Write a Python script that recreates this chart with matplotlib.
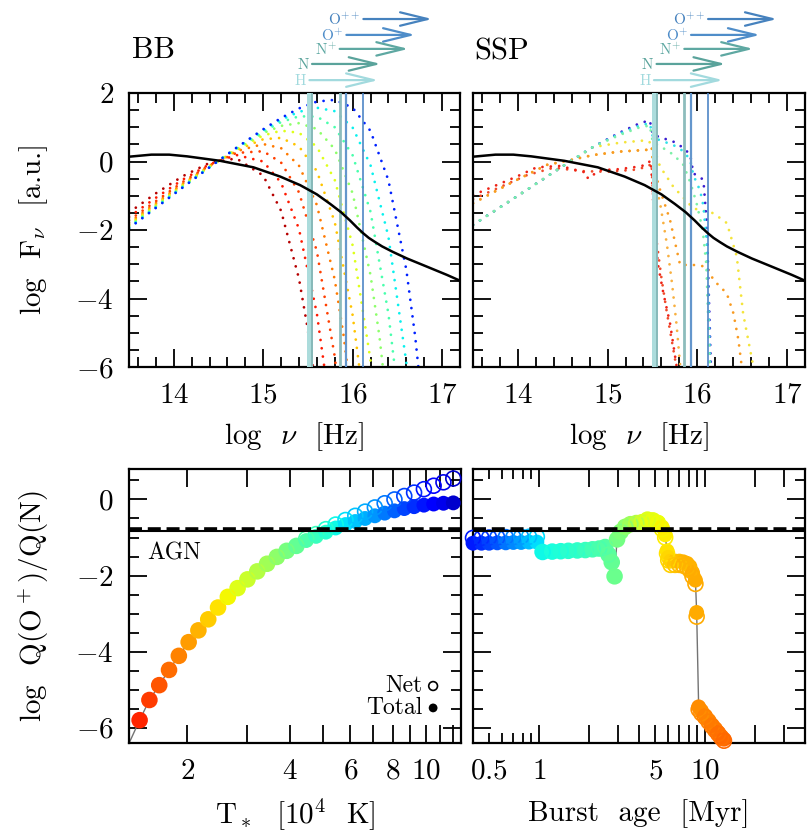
import numpy as np
import matplotlib
matplotlib.use("Agg")
import matplotlib.pyplot as plt
import matplotlib.transforms as mtransforms
from matplotlib.ticker import (FixedLocator, MultipleLocator, FuncFormatter,
                               NullLocator)

plt.rcParams['font.family'] = 'serif'
plt.rcParams['font.serif'] = ['cmr10', 'DejaVu Serif']
plt.rcParams['mathtext.fontset'] = 'cm'
plt.rcParams['axes.formatter.use_mathtext'] = True

# ---------------------------------------------------------------- data
# blackbody spectra (log nu [Hz], log F_nu [a.u.]), coolest first
bb_lognu = [
    [13.5, 13.8, 14.1, 14.4, 14.7, 15.0, 15.2, 15.4, 15.5, 15.6],
    [13.5, 13.8, 14.1, 14.4, 14.7, 15.0, 15.2, 15.4, 15.6, 15.7],
    [13.5, 14.1, 14.4, 14.7, 15.0, 15.2, 15.4, 15.6, 15.8, 15.9],
    [13.5, 14.1, 14.4, 14.7, 15.0, 15.2, 15.4, 15.6, 15.8, 15.9, 16.0],
    [13.5, 14.1, 14.4, 14.7, 15.0, 15.2, 15.4, 15.6, 15.8, 16.0, 16.1],
    [13.5, 14.1, 14.4, 14.7, 15.0, 15.2, 15.4, 15.6, 15.8, 16.0, 16.2, 16.3],
    [13.5, 14.1, 14.4, 14.7, 15.0, 15.2, 15.4, 15.6, 15.8, 16.0, 16.2, 16.3, 16.4],
    [13.5, 14.1, 14.4, 14.7, 15.0, 15.2, 15.4, 15.6, 15.8, 16.0, 16.2, 16.4, 16.5],
    [13.5, 14.1, 14.4, 14.7, 15.0, 15.2, 15.4, 15.6, 15.8, 16.0, 16.2, 16.4, 16.6, 16.7],
    [13.5, 14.1, 14.4, 14.7, 15.0, 15.2, 15.4, 15.6, 15.8, 16.0, 16.2, 16.4, 16.6, 16.7, 16.8],
]
bb_logf = [
    [-1.49, -0.93, -0.43, -0.04, 0.09, -0.41, -1.44, -3.42, -4.92, -6.90],
    [-1.62, -1.06, -0.53, -0.08, 0.19, 0.00, -0.62, -1.97, -4.44, -6.31],
    [-1.72, -0.60, -0.11, 0.25, 0.30, -0.03, -0.90, -2.62, -5.70, -7.99],
    [-1.79, -0.65, -0.13, 0.30, 0.51, 0.39, -0.12, -1.27, -3.45, -5.10, -7.25],
    [-1.84, -0.68, -0.14, 0.33, 0.65, 0.69, 0.44, -0.28, -1.77, -4.49, -6.52],
    [-1.87, -0.71, -0.15, 0.36, 0.76, 0.90, 0.84, 0.43, -0.54, -2.45, -5.81, -8.29],
    [-1.90, -0.73, -0.16, 0.37, 0.83, 1.04, 1.12, 0.95, 0.36, -0.93, -3.32, -5.12, -7.46],
    [-1.92, -0.74, -0.16, 0.39, 0.88, 1.15, 1.32, 1.31, 1.00, 0.18, -1.47, -4.45, -6.65],
    [-1.94, -0.75, -0.17, 0.39, 0.92, 1.22, 1.45, 1.57, 1.47, 0.99, -0.11, -2.20, -5.87, -8.57],
    [-1.95, -0.76, -0.17, 0.40, 0.94, 1.27, 1.55, 1.75, 1.80, 1.57, 0.89, -0.55, -3.16, -5.13, -7.66],
]

# stellar population spectra
ssp_lognu = {
    'red2':   [13.5, 13.8, 14.1, 14.4, 14.7, 15.0, 15.3, 15.45, 15.49, 15.51, 15.55, 15.60, 15.66, 15.72, 15.78],
    'red':    [13.5, 13.727, 13.987, 14.21, 14.47, 14.62, 14.767, 14.78, 14.916, 15.10, 15.288, 15.436,
               15.48, 15.503, 15.518, 15.566, 15.622, 15.696, 15.77],
    'orange2': [13.5, 13.912, 14.321, 14.581, 14.842, 15.139, 15.436, 15.492, 15.51, 15.59, 15.66, 15.72, 15.77, 15.81],
    'orange': [13.5, 13.912, 14.321, 14.581, 14.842, 15.139, 15.436, 15.492, 15.51, 15.585, 15.696,
               15.808, 15.956, 16.105, 16.18, 16.328, 16.402, 16.458, 16.495],
    'yellow': [13.5, 14.0, 14.58, 14.84, 15.14, 15.436, 15.503, 15.585, 15.733, 15.956, 16.18, 16.33,
               16.44, 16.51, 16.625],
    'blue':   [13.5, 14.0, 14.58, 14.84, 15.14, 15.36, 15.47, 15.505, 15.585, 15.733, 15.845, 15.92,
               15.956, 16.031, 16.068, 16.105, 16.124, 16.15],
    'cyan':   [13.5, 14.0, 14.58, 14.84, 15.14, 15.36, 15.47, 15.505, 15.585, 15.733, 15.845, 15.92,
               15.956, 16.031, 16.068, 16.105, 16.124, 16.145],
    'green':  [13.5, 14.0, 14.58, 14.84, 15.14, 15.36, 15.47, 15.505, 15.585, 15.733, 15.845, 15.92,
               15.99, 16.06, 16.10, 16.12, 16.14],
}
ssp_logf = {
    'red2':   [-1.10, -0.75, -0.40, -0.18, -0.28, -0.30, -0.24, -0.15, -0.05, -1.2, -2.4, -3.4, -4.4, -5.3, -6.2],
    'red':    [-0.98, -0.73, -0.44, -0.17, -0.13, -0.23, -0.33, -0.50, -0.25, -0.23, -0.17, -0.10,
               0.04, -0.83, -2.0, -3.07, -3.85, -4.73, -5.99],
    'orange2': [-1.22, -0.64, -0.10, 0.04, 0.19, 0.29, 0.34, 0.43, -0.30, -1.30, -2.40, -3.60, -4.80, -6.0],
    'orange': [-1.22, -0.64, -0.10, 0.04, 0.19, 0.29, 0.34, 0.43, -0.15, -0.83, -1.71,
               -3.02, -3.02, -3.07, -3.46, -3.85, -4.43, -5.21, -5.99],
    'yellow': [-1.85, -1.0, 0.0, 0.42, 0.55, 0.62, 0.50, -0.15, -0.74, -1.37, -1.51, -1.80,
               -2.78, -4.43, -6.0],
    'blue':   [-1.85, -1.0, 0.0, 0.43, 0.85, 1.12, 1.20, 0.78, 0.71, 0.58, 0.40, 0.20,
               -0.35, -0.45, -0.55, -1.80, -3.50, -5.90],
    'cyan':   [-1.85, -1.0, 0.0, 0.43, 0.82, 1.05, 1.12, 0.70, 0.62, 0.48, 0.30, 0.05,
               -0.40, -0.85, -1.30, -2.40, -4.00, -6.20],
    'green':  [-1.85, -1.0, 0.0, 0.43, 0.78, 1.00, 1.05, 0.55, 0.45, 0.20, -0.10, -0.60,
               -1.20, -2.00, -3.00, -4.50, -6.20],
}
ssp_order = ['red2', 'red', 'orange2', 'orange', 'yellow', 'blue', 'cyan', 'green']

# AGN continuum
agn_lognu = [13.5, 13.75, 13.95, 14.15, 14.518, 14.891, 15.19, 15.413, 15.6, 15.75, 15.87,
             15.97, 16.05, 16.12, 16.18, 16.25, 16.33, 16.45, 16.606, 16.83, 17.053, 17.2]
agn_logf = [0.14, 0.20, 0.20, 0.15, 0.02, -0.17, -0.44, -0.69, -0.96, -1.24, -1.48,
            -1.72, -1.93, -2.10, -2.23, -2.35, -2.48, -2.64, -2.83, -3.07, -3.31, -3.48]

# ionisation edges
edge_names = ['H', 'N', r'N$^{+}$', r'O$^{+}$', r'O$^{++}$']
edge_lognu = [15.517, 15.546, 15.855, 15.93, 16.12]

# Q(O+)/Q(N) versus blackbody temperature [1e4 K]
t_star = [1.45, 1.549, 1.655, 1.768, 1.889, 2.018, 2.155, 2.303, 2.46, 2.628, 2.807,
          2.999, 3.204, 3.423, 3.657, 3.906, 4.173, 4.458, 4.763, 5.088, 5.435, 5.807,
          6.203, 6.627, 7.079, 7.563, 8.079, 8.631, 9.221, 9.851, 10.52, 11.24, 12.01]
q_total_bb = [-5.80, -5.27, -4.88, -4.48, -4.11, -3.75, -3.44, -3.15, -2.84, -2.56, -2.33,
              -2.10, -1.89, -1.69, -1.51, -1.35, -1.22, -1.08, -0.97, -0.86, -0.75, -0.66,
              -0.58, -0.50, -0.43, -0.36, -0.30, -0.24, -0.19, -0.15, -0.12, -0.10, -0.09]
q_net_bb = [-5.80, -5.27, -4.88, -4.48, -4.11, -3.75, -3.44, -3.15, -2.84, -2.56, -2.33,
            -2.10, -1.89, -1.69, -1.51, -1.35, -1.22, -1.03, -0.91, -0.78, -0.66, -0.54,
            -0.43, -0.32, -0.21, -0.10, 0.00, 0.09, 0.18, 0.27, 0.36, 0.45, 0.55]
t_star_prev, q_total_prev = 1.32, -6.6   # previous grid point, below the plotted range

# Q(O+)/Q(N) versus burst age [Myr]
burst_age = [0.40, 0.45, 0.50, 0.56, 0.63, 0.70, 0.78, 0.87, 0.97,
             1.05, 1.20, 1.35, 1.50, 1.70, 1.90, 2.10, 2.30, 2.50,
             2.62, 2.74, 2.85, 2.95, 3.10, 3.30, 3.55, 3.85, 4.15, 4.50, 4.85, 5.20, 5.50, 5.75,
             5.90, 6.00, 6.20, 6.60, 7.00, 7.40, 7.80, 8.10, 8.40, 8.75, 8.90,
             9.15, 9.50, 10.0, 10.5, 11.0, 11.5, 12.0, 12.5, 13.0]
q_total_ssp = [-1.15, -1.15, -1.15, -1.14, -1.14, -1.13, -1.13, -1.12, -1.12,
               -1.38, -1.37, -1.36, -1.35, -1.34, -1.33, -1.31, -1.29, -1.25,
               -1.45, -1.65, -2.02, -1.05, -0.85, -0.72, -0.65, -0.62, -0.60, -0.53, -0.55, -0.60, -0.72, -0.93,
               -1.35, -1.52, -1.62, -1.62, -1.62, -1.64, -1.68, -1.76, -1.92, -2.12, -2.97,
               -5.45, -5.55, -5.68, -5.80, -5.92, -6.02, -6.12, -6.22, -6.30]
q_net_ssp = [-1.01, -1.01, -1.00, -1.00, -0.99, -0.99, -0.98, -0.98, -0.98,
             -1.38, -1.37, -1.36, -1.35, -1.34, -1.33, -1.31, -1.29, -1.25,
             -1.45, -1.65, -2.02, -1.05, -0.85, -0.72, -0.65, -0.62, -0.60, -0.53, -0.55, -0.62, -0.78, -1.00,
             -1.42, -1.60, -1.72, -1.72, -1.72, -1.74, -1.78, -1.86, -2.02, -2.22, -3.08,
             -5.52, -5.62, -5.72, -5.84, -5.96, -6.06, -6.16, -6.26, -6.34]

agn_ratio_total = -0.84
agn_ratio_net = -0.78

# ---------------------------------------------------------------- styles
jet = plt.cm.jet
bb_colors = [jet(v) for v in (0.95, 0.88, 0.84, 0.78, 0.70, 0.62, 0.52, 0.44, 0.36, 0.16)]
ssp_colors = {'red2': '#f04a2a', 'red': '#ee2216', 'orange2': '#f8b040', 'orange': '#f89a20',
              'yellow': '#f4e43a', 'green': '#7cf0a8', 'cyan': '#30e0e8', 'blue': '#3a1ed0'}
edge_colors = ['#a2dade', '#5aa39b', '#5ea8a2', '#4f8dc9', '#4682be']
vline_colors = ['#acdcdc', '#86b9b9', '#8dbcbc', '#6496cc', '#4f86c6']
vline_widths = [3.6, 1.4, 2.0, 1.6, 1.2]
arrow_heights = [1.047, 1.106, 1.161, 1.212, 1.27]

bb_q_cols = [jet(v) for v in np.linspace(0.87, 0.07, len(t_star))]
ssp_q_vals = [0.15, 0.17, 0.19, 0.21, 0.24, 0.26, 0.28, 0.31, 0.34,
              0.37, 0.38, 0.39, 0.40, 0.41, 0.42, 0.43, 0.44, 0.45,
              0.46, 0.47, 0.48, 0.49, 0.50, 0.52, 0.54, 0.57, 0.60, 0.62, 0.63, 0.64, 0.65, 0.66,
              0.67, 0.68, 0.69, 0.70, 0.71, 0.72, 0.72, 0.72, 0.73, 0.73, 0.73,
              0.76, 0.76, 0.77, 0.77, 0.78, 0.78, 0.79, 0.79, 0.80]
ssp_q_cols = [jet(v) for v in ssp_q_vals]

FS = 21
dotted = (0, (0.01, 3.0))

# ---------------------------------------------------------------- layout
W, H = 810, 833
fig = plt.figure(figsize=(W / 100, H / 100), dpi=100)


def frame(l, t, r, b):
    return [l / W, 1 - b / H, (r - l) / W, (b - t) / H]


ax_bb = fig.add_axes(frame(129, 93, 460, 367))
ax_ssp = fig.add_axes(frame(473, 93, 805, 367))
ax_qbb = fig.add_axes(frame(129, 469, 461, 743))
ax_qssp = fig.add_axes(frame(473, 469, 805, 743))

int_fmt = FuncFormatter(lambda v, p: r'$%d$' % int(round(v)))


def base_style(ax):
    ax.tick_params(which='both', direction='in', top=True, right=True, width=1.3,
                   labelsize=FS, pad=11)
    ax.tick_params(which='major', length=13)
    ax.tick_params(which='minor', length=7)
    for sp in ax.spines.values():
        sp.set_linewidth(1.6)


# ---------------------------------------------------------------- top panels
for ax in (ax_bb, ax_ssp):
    base_style(ax)
    ax.set_xlim(13.5, 17.2)
    ax.set_ylim(-6, 2)
    ax.xaxis.set_major_locator(MultipleLocator(1))
    ax.xaxis.set_minor_locator(MultipleLocator(0.2))
    ax.yaxis.set_major_locator(FixedLocator([-6, -4, -2, 0, 2]))
    ax.yaxis.set_minor_locator(MultipleLocator(0.5))
    ax.xaxis.set_major_formatter(int_fmt)
    ax.yaxis.set_major_formatter(int_fmt)

    for x0, lw, c in zip(edge_lognu, vline_widths, vline_colors):
        ax.axvline(x0, color=c, lw=lw, zorder=3)
    ax.plot(agn_lognu, agn_logf, color='k', lw=1.8, zorder=5)

    trans = mtransforms.blended_transform_factory(ax.transData, ax.transAxes)
    for name, x0, yh, c in zip(edge_names, edge_lognu, arrow_heights, edge_colors):
        ax.annotate('', xy=(x0 + 0.77, yh), xytext=(x0, yh), xycoords=trans,
                    textcoords=trans, annotation_clip=False,
                    arrowprops=dict(arrowstyle='->,head_length=0.9,head_width=0.22',
                                    color=c, lw=1.6, shrinkA=0, shrinkB=0,
                                    mutation_scale=22))
        ax.text(x0 - 0.035, yh - 0.005, name, transform=trans, ha='right', va='center',
                color=c, fontsize=11, clip_on=False)

for xs, ys, c in zip(bb_lognu, bb_logf, bb_colors):
    ax_bb.plot(xs, ys, color=c, lw=2.0, ls=dotted, dash_capstyle='round', zorder=2)

for key in ssp_order:
    ax_ssp.plot(ssp_lognu[key], ssp_logf[key], color=ssp_colors[key], lw=2.0,
                ls=dotted, dash_capstyle='round', zorder=2)

ax_ssp.tick_params(labelleft=False)

# ---------------------------------------------------------------- bottom panels
for ax in (ax_qbb, ax_qssp):
    ax.set_xscale('log')
    base_style(ax)
    ax.set_ylim(-6.4, 0.8)
    ax.yaxis.set_major_locator(FixedLocator([-6, -4, -2, 0]))
    ax.yaxis.set_minor_locator(MultipleLocator(0.5))
    ax.yaxis.set_major_formatter(int_fmt)
    ax.axhline(agn_ratio_total, color='k', lw=1.5, zorder=6)
    ax.axhline(agn_ratio_net, color='k', lw=2.6, ls=(0, (3.6, 1.6)), zorder=6)

ax_qbb.set_xlim(1.35, 12.65)
ax_qbb.xaxis.set_major_locator(FixedLocator([2, 3, 4, 5, 6, 7, 8, 9, 10, 11, 12]))
ax_qbb.xaxis.set_minor_locator(NullLocator())
ax_qbb.xaxis.set_major_formatter(FuncFormatter(
    lambda v, p: r'$%d$' % v if int(round(v)) in (2, 4, 6, 8, 10) else ''))

ax_qssp.set_xlim(0.4, 40)
ax_qssp.xaxis.set_major_locator(FixedLocator([1, 2, 3, 4, 5, 6, 7, 8, 9, 10, 20, 30]))
ax_qssp.xaxis.set_minor_locator(FixedLocator([0.5, 0.6, 0.7, 0.8, 0.9]))
ax_qssp.xaxis.set_major_formatter(FuncFormatter(
    lambda v, p: r'$%d$' % v if int(round(v)) in (1, 5, 10) else ''))
ax_qssp.xaxis.set_minor_formatter(FuncFormatter(
    lambda v, p: r'$0.5$' if abs(v - 0.5) < 1e-6 else ''))
ax_qssp.tick_params(labelleft=False)

# connecting tracks
ax_qbb.plot([t_star_prev] + t_star, [q_total_prev] + q_total_bb, color='0.45', lw=1.0, zorder=2)
ax_qssp.plot(burst_age, q_total_ssp, color='0.45', lw=1.0, zorder=2)

MS = 115
ax_qbb.scatter(t_star, q_total_bb, s=MS, c=bb_q_cols, edgecolors='none', zorder=3, clip_on=False)
ax_qbb.scatter(t_star, q_net_bb, s=MS, facecolors='none', edgecolors=bb_q_cols,
               linewidths=1.2, zorder=4, clip_on=False)
ax_qssp.scatter(burst_age, q_total_ssp, s=MS, c=ssp_q_cols, edgecolors='none', zorder=3, clip_on=False)
ax_qssp.scatter(burst_age, q_net_ssp, s=MS, facecolors='none', edgecolors=ssp_q_cols,
                linewidths=1.2, zorder=4, clip_on=False)

# annotations inside the BB ratio panel
ax_qbb.text(0.054, 0.693, 'AGN', transform=ax_qbb.transAxes, fontsize=17,
            ha='left', va='center')
ax_qbb.text(0.883, 0.208, 'Net', transform=ax_qbb.transAxes, fontsize=17,
            ha='right', va='center')
ax_qbb.text(0.883, 0.128, 'Total', transform=ax_qbb.transAxes, fontsize=17,
            ha='right', va='center')
ax_qbb.scatter([0.916], [0.208], s=40, facecolors='none', edgecolors='k',
               linewidths=1.2, transform=ax_qbb.transAxes, zorder=6)
ax_qbb.scatter([0.916], [0.128], s=40, c='k', edgecolors='none',
               transform=ax_qbb.transAxes, zorder=6)

# ---------------------------------------------------------------- labels
fig.text(132 / W, 1 - 58 / H, 'BB', fontsize=22, ha='left', va='baseline')
fig.text(474 / W, 1 - 60 / H, 'SSP', fontsize=22, ha='left', va='baseline')

fig.text((129 + 460) / 2 / W, 1 - 437 / H, r'log  $\nu$  [Hz]', fontsize=FS,
         ha='center', va='center')
fig.text((473 + 805) / 2 / W, 1 - 437 / H, r'log  $\nu$  [Hz]', fontsize=FS,
         ha='center', va='center')
fig.text((129 + 461) / 2 / W, 1 - 814 / H, r'T$_*$  [10$^4$  K]', fontsize=FS,
         ha='center', va='center')
fig.text((473 + 805) / 2 / W, 1 - 814 / H, 'Burst  age  [Myr]', fontsize=FS,
         ha='center', va='center')
fig.text(34 / W, 1 - 230 / H, r'log  F$_\nu$  [a.u.]', fontsize=FS, rotation=90,
         ha='center', va='center')
fig.text(34 / W, 1 - 606 / H, r'log  Q(O$^+$)/Q(N)', fontsize=FS, rotation=90,
         ha='center', va='center')

fig.savefig('out.png', dpi=100)
